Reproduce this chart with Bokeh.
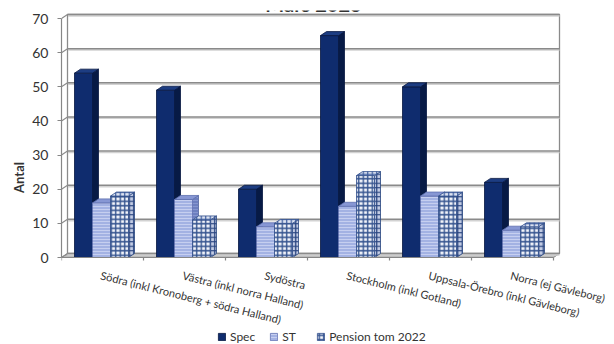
from bokeh.plotting import figure
from bokeh.models import (Range1d, LinearAxis, FixedTicker, ColumnDataSource,
                          LabelSet, Label, Legend, LegendItem)
from bokeh.core.properties import value
from bokeh.embed import file_html
from bokeh.resources import INLINE

# --- data -------------------------------------------------------------
title_text = "Mars 2023"
y_title = "Antal"
categories = [
    "Södra (inkl Kronoberg + södra Halland)",
    "Västra (inkl norra Halland)",
    "Sydöstra",
    "Stockholm (inkl Gotland)",
    "Uppsala-Örebro (inkl Gävleborg)",
    "Norra (ej Gävleborg)",
]
series_names = ["Spec", "ST", "Pension tom 2022"]
spec = [54, 49, 20, 65, 50, 22]
st = [16, 17, 9, 15, 18, 8]
pension = [18, 11, 10, 24, 18, 9]
y_ticks = [0, 10, 20, 30, 40, 50, 60, 70]

# --- layout (pixels) --------------------------------------------------
FONT = "Lato"
N = len(categories)
PX_PER_CAT = 82.0            # horizontal pixels per category
PX_PER_UNIT = 3.414          # vertical pixels per unit of "Antal"
DEPTH_X, DEPTH_Y = 6.0, 4.0  # pseudo-3D depth offset
FRAME_W, FRAME_H = 553, 334
FLOOR_PX = 247               # floor distance below the frame top
X_END = FRAME_W / PX_PER_CAT
Y_END = FLOOR_PX / PX_PER_UNIT
Y_START = -(FRAME_H - FLOOR_PX) / PX_PER_UNIT
DX = DEPTH_X / PX_PER_CAT    # depth offset in data units
DY = DEPTH_Y / PX_PER_UNIT
BAR_W = 18.0 / PX_PER_CAT
Y_MAX = y_ticks[-1]

p = figure(frame_width=FRAME_W, frame_height=FRAME_H,
           x_range=Range1d(0, X_END), y_range=Range1d(Y_START, Y_END),
           x_axis_type=None, y_axis_type=None,
           min_border_left=61, min_border_right=0,
           min_border_top=10, min_border_bottom=0,
           output_backend="svg", toolbar_location=None,
           outline_line_color=None, background_fill_color="white",
           border_fill_color="white")

# --- walls and floor --------------------------------------------------
grid_col = "#8a8a8a"
axis_col = "#868686"
# back wall
p.quad(left=[DX], right=[N + DX], bottom=[DY], top=[Y_MAX + DY],
       fill_color="white", line_color=grid_col, line_width=1.3)
# floor
p.patch(x=[0, N, N + DX, DX], y=[0, 0, DY, DY],
        fill_color="#bcbcbc", line_color="#8a8a8a", line_width=1)
# gridlines on back wall and side wall
gx0 = [DX] * len(y_ticks)
gx1 = [N + DX] * len(y_ticks)
gy = [v + DY for v in y_ticks]
p.segment(x0=gx0, y0=[g - 0.4 for g in gy], x1=gx1, y1=[g - 0.4 for g in gy],
          line_color="#d2d2d2", line_width=1.6)
p.segment(x0=gx0, y0=gy, x1=gx1, y1=gy, line_color=grid_col, line_width=1.5)
p.segment(x0=[0] * len(y_ticks), y0=y_ticks, x1=gx0, y1=gy,
          line_color=grid_col, line_width=1.2)
p.segment(x0=[DX], y0=[DY], x1=[DX], y1=[Y_MAX + DY],
          line_color=grid_col, line_width=1.0)

# --- bars -------------------------------------------------------------
styles = [
    dict(front=dict(fill_color="#0f2c6e", line_color="#061640"),
         side=dict(fill_color="#071a45", line_color="#061640"),
         top=dict(fill_color="#1d3d82", line_color="#061640")),
    dict(front=dict(fill_color="#a3b2e3", line_color="#6474b4",
                    hatch_pattern="-", hatch_color="#c6cff0",
                    hatch_scale=3, hatch_weight=1),
         side=dict(fill_color="#6d7fbf", line_color="#56679f",
                   hatch_pattern="-", hatch_color="#8696cf",
                   hatch_scale=3, hatch_weight=1),
         top=dict(fill_color="#8797d4", line_color="#5d6fae")),
    dict(front=dict(fill_color="#f2f4fa", line_color="#2f4d8a",
                    hatch_pattern="+", hatch_color="#35548f",
                    hatch_scale=4.5, hatch_weight=1.4),
         side=dict(fill_color="#c3cce4", line_color="#2a4780",
                   hatch_pattern="+", hatch_color="#28447f",
                   hatch_scale=4.5, hatch_weight=1.3),
         top=dict(fill_color="#dde3f1", line_color="#2f4d8a",
                  hatch_pattern="+", hatch_color="#3c5c9e",
                  hatch_scale=4.5, hatch_weight=1.2)),
]

legend_items = []
all_series = [spec, st, pension]
for s, (name, vals) in enumerate(zip(series_names, all_series)):
    lefts = [i + 0.5 + (s - 1.5) * BAR_W - 1.0 / PX_PER_CAT for i in range(N)]
    rights = [l + BAR_W for l in lefts]
    src = ColumnDataSource(dict(left=lefts, right=rights,
                                bottom=[0] * N, top=vals))
    side_xs = [[r, r + DX, r + DX, r] for r in rights]
    side_ys = [[0, DY, v + DY, v] for v in vals]
    top_xs = [[l, r, r + DX, l + DX] for l, r in zip(lefts, rights)]
    top_ys = [[v, v, v + DY, v + DY] for v in vals]
    st_ = styles[s]
    p.patches(xs=side_xs, ys=side_ys, line_width=0.8, **st_["side"])
    front = p.quad(left="left", right="right", bottom="bottom", top="top",
                   source=src, line_width=0.8, **st_["front"])
    p.patches(xs=top_xs, ys=top_ys, line_width=0.8, **st_["top"])
    legend_items.append(LegendItem(label=name, renderers=[front]))

# category axis: front edge of the floor with ticks between categories
TICK_LEN = 3.0 / PX_PER_UNIT
p.segment(x0=[0], y0=[0], x1=[N], y1=[0], line_color=axis_col, line_width=1.2)
p.segment(x0=list(range(N + 1)), y0=[0] * (N + 1),
          x1=list(range(N + 1)), y1=[-TICK_LEN] * (N + 1),
          line_color=axis_col, line_width=1.2)

# --- value axis -------------------------------------------------------
y_axis = LinearAxis(ticker=FixedTicker(ticks=y_ticks), bounds=(0, Y_MAX),
                    axis_label=y_title,
                    axis_label_text_font=FONT,
                    axis_label_text_font_size="13px",
                    axis_label_text_font_style="bold",
                    axis_label_text_color="#333333",
                    axis_label_standoff=2,
                    major_label_text_font=FONT,
                    major_label_text_font_size="14px",
                    major_label_text_color="#333333",
                    major_label_standoff=9,
                    axis_line_color=axis_col, axis_line_width=1.2,
                    major_tick_line_color=axis_col,
                    major_tick_out=4, major_tick_in=0,
                    minor_tick_line_color=None)
p.add_layout(y_axis, "left")

# category labels, slanted under the floor
LABEL_Y = -11.0 / PX_PER_UNIT
lab_src = ColumnDataSource(dict(x=[i + 0.5 for i in range(N)],
                                y=[LABEL_Y] * N, text=categories))
p.add_layout(LabelSet(x="x", y="y", text="text", source=lab_src,
                      x_offset=0, angle=-14, angle_units="deg",
                      text_align="left", text_baseline="top",
                      text_font=value(FONT), text_font_size="11px",
                      text_color="#333333"))

# title, mostly above the visible page
p.add_layout(Label(x=N / 2 + DX, y=(FLOOR_PX + 10 - 3.5) / PX_PER_UNIT,
                   text=title_text,
                   text_align="center", text_baseline="alphabetic",
                   text_font=FONT, text_font_size="20px",
                   text_font_style="bold", text_color="#333333"))

legend = Legend(items=legend_items, orientation="horizontal",
                location=(156, 0),
                border_line_color=None, background_fill_alpha=0,
                label_text_font=FONT, label_text_font_size="12px",
                label_text_color="#333333",
                glyph_width=9, glyph_height=9, label_standoff=4,
                spacing=14, padding=0, margin=0)
p.add_layout(legend, "center")

open("out.html", "w").write(file_html(p, INLINE))
